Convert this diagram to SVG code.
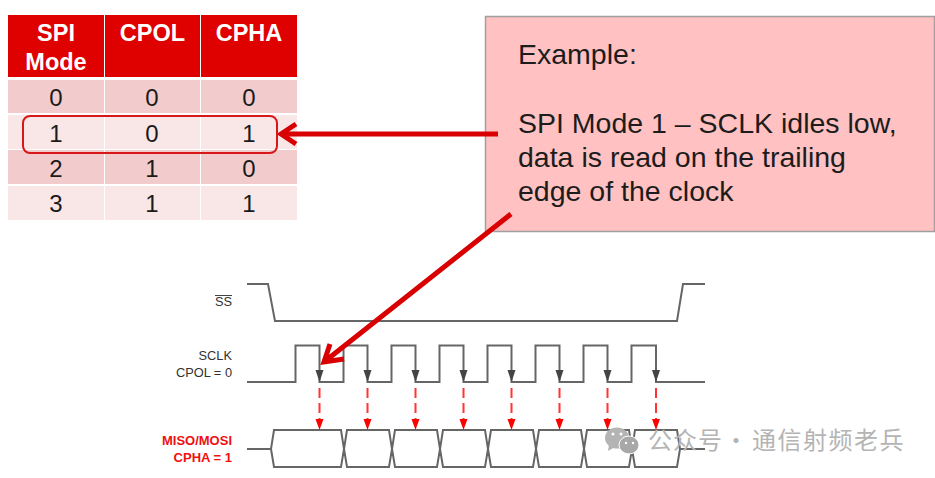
<svg xmlns="http://www.w3.org/2000/svg" width="935" height="478" viewBox="0 0 935 478">
<style>
text{font-family:"Liberation Sans",Arial,sans-serif}
.h{fill:#fff;font-weight:bold;font-size:23.5px;text-anchor:middle}
.c{fill:#1a1a1a;font-size:24px;text-anchor:middle}
.hd{fill:#df0000}.a{fill:#f2cccc}.b{fill:#f9e6e6}
.w{fill:none;stroke:#666;stroke-width:2}
.lab{font-size:12.8px;text-anchor:end;fill:#333}
.rl{font-size:13px;font-weight:bold;text-anchor:end;fill:#f01010}
.ex{font-size:28.500px;fill:#1c1c1c}
.big{fill:none;stroke:#d80000;stroke-width:5}
.da{stroke:#f33;stroke-width:2;stroke-dasharray:10 5;fill:none}
.rh{fill:#f00}.gh{fill:#444}
.wm{font-family:"Noto Sans CJK SC","Liberation Sans",sans-serif;font-size:24px;fill:#b4b4b4}
</style>
<rect width="935" height="478" fill="#fff"/>
<g id="table">
<rect class="hd" x="8" y="15" width="96" height="62"/><rect class="hd" x="105" y="15" width="95" height="62"/><rect class="hd" x="201" y="15" width="96" height="62"/>
<rect class="a" x="8" y="80" width="96" height="33"/><rect class="a" x="105" y="80" width="95" height="33"/><rect class="a" x="201" y="80" width="96" height="33"/>
<rect class="b" x="8" y="115" width="96" height="34"/><rect class="b" x="105" y="115" width="95" height="34"/><rect class="b" x="201" y="115" width="96" height="34"/>
<rect class="a" x="8" y="150" width="96" height="34"/><rect class="a" x="105" y="150" width="95" height="34"/><rect class="a" x="201" y="150" width="96" height="34"/>
<rect class="b" x="8" y="186" width="96" height="34"/><rect class="b" x="105" y="186" width="95" height="34"/><rect class="b" x="201" y="186" width="96" height="34"/>
<text class="h" x="56" y="41">SPI</text><text class="h" x="56" y="70">Mode</text><text class="h" x="152.500" y="41">CPOL</text><text class="h" x="249" y="41">CPHA</text>
<text class="c" x="56" y="106">0</text><text class="c" x="152" y="106">0</text><text class="c" x="249" y="106">0</text>
<text class="c" x="56" y="142">1</text><text class="c" x="152" y="142">0</text><text class="c" x="249" y="142">1</text>
<text class="c" x="56" y="177">2</text><text class="c" x="152" y="177">1</text><text class="c" x="249" y="177">0</text>
<text class="c" x="56" y="212">3</text><text class="c" x="152" y="212">1</text><text class="c" x="249" y="212">1</text>
</g>
<g id="highlight"><rect x="23" y="116" width="254" height="37" rx="7" fill="none" stroke="#d81818" stroke-width="2"/></g>
<g id="callout">
<rect x="485.500" y="16.500" width="449" height="215" fill="#ffc1c1" stroke="#a0a0a0" stroke-width="1.500"/>
<text class="ex" x="518" y="64">Example:</text>
<text class="ex" x="518" y="133">SPI Mode 1 – SCLK idles low,</text>
<text class="ex" x="518" y="167">data is read on the trailing</text>
<text class="ex" x="518" y="201">edge of the clock</text>
</g>
<g id="ss"><path class="w" d="M247 284H268L275 321H677L683 284H705"/><text class="lab" x="232" y="306">SS</text><path d="M215 295.500H232" stroke="#444" stroke-width="1"/></g>
<g id="sclk"><path class="w" d="M247 382H295.500V345.500H319.500V382H343.500V345.500H367.500V382H391.500V345.500H415.500V382H439.500V345.500H463.500V382H487.500V345.500H511.500V382H535.500V345.500H559.500V382H583.500V345.500H607.500V382H631.500V345.500H656V382H705"/><text class="lab" x="232" y="360">SCLK</text><text class="lab" x="232" y="377">CPOL = 0</text></g>
<g id="data"><path class="w" d="M247 449H271L274 430H341L344 449L341 467H274L271 449M344 449L347 430H389L392 449L389 467H347L344 449M392 449L395 430H437L440 449L437 467H395L392 449M440 449L443 430H485L488 449L485 467H443L440 449M488 449L491 430H533L536 449L533 467H491L488 449M536 449L539 430H581L584 449L581 467H539L536 449M584 449L587 430H629L632 449L629 467H587L584 449M632 449L635 430H677L680 449L677 467H635L632 449M680 449H705"/><text class="rl" x="232" y="445">MISO/MOSI</text><text class="rl" x="232" y="462">CPHA = 1</text></g>
<g id="connectors">
<g class="gh"><path d="M315.500 370h8l-4 12z"/><path d="M363.500 370h8l-4 12z"/><path d="M411.500 370h8l-4 12z"/><path d="M459.500 370h8l-4 12z"/><path d="M507.500 370h8l-4 12z"/><path d="M555.500 370h8l-4 12z"/><path d="M603.500 370h8l-4 12z"/><path d="M652 370h8l-4 12z"/></g>
<path class="da" d="M319.500 388V420M367.500 388V420M415.500 388V420M463.500 388V420M511.500 388V420M559.500 388V420M607.500 388V420M656 388V420"/>
<g class="rh"><path d="M315.500 419h8l-4 11z"/><path d="M363.500 419h8l-4 11z"/><path d="M411.500 419h8l-4 11z"/><path d="M459.500 419h8l-4 11z"/><path d="M507.500 419h8l-4 11z"/><path d="M555.500 419h8l-4 11z"/><path d="M603.500 419h8l-4 11z"/><path d="M652 419h8l-4 11z"/></g>
<path class="big" d="M498 134H281M296 124L281 134L296 144"/>
<path class="big" d="M511 214L324 362M330 344L324 362L344 359"/>
</g>
<g id="watermark">
<ellipse cx="617" cy="438" rx="12" ry="10.500" fill="#b4b4b4"/><path d="M609 445l-1 6 7-4z" fill="#b4b4b4"/>
<circle cx="613" cy="434" r="1.500" fill="#fff"/><circle cx="621" cy="434" r="1.500" fill="#fff"/>
<ellipse cx="629" cy="445" rx="10" ry="9" fill="#a8a8a8" stroke="#fff" stroke-width="1"/>
<circle cx="626" cy="443" r="1.200" fill="#fff"/><circle cx="633" cy="443" r="1.200" fill="#fff"/>
<text class="wm" x="648" y="449" letter-spacing="1">公众号</text><text class="wm" x="724" y="449">·</text><text class="wm" x="752" y="449" letter-spacing="1.500">通信射频老兵</text>
</g>
</svg>
